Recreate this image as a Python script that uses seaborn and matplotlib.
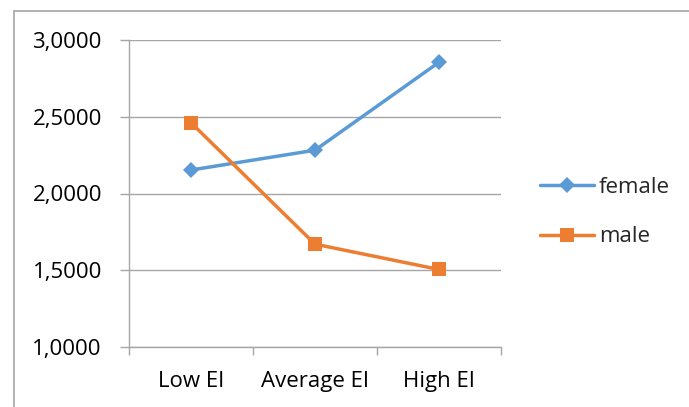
import pandas as pd
import matplotlib.pyplot as plt
import matplotlib.lines as mlines
from matplotlib.ticker import FixedLocator, NullFormatter, FuncFormatter
import seaborn as sns

# values
groups = ["Low EI", "Average EI", "High EI"]
female = [2.153, 2.282, 2.855]
male = [2.461, 1.670, 1.505]
series_names = ["female", "male"]

df = pd.DataFrame({
    "group": groups * 2,
    "score": female + male,
    "sex": ["female"] * 3 + ["male"] * 3,
})

sns.set_style("white")
plt.rcParams["font.family"] = ["Open Sans", "DejaVu Sans"]

grid_col = "#A6A6A6"
palette = {"female": "#5B9BD5", "male": "#ED7D31"}
fs = 16

fig = plt.figure(figsize=(6.89, 4.07), dpi=100)
ax = fig.add_axes([129 / 689, 1 - 347 / 407, 372 / 689, 307 / 407])

sns.lineplot(
    data=df, x="group", y="score", hue="sex", style="sex",
    palette=palette, markers={"female": "D", "male": "s"}, dashes=False,
    linewidth=2.5, markeredgewidth=0, ax=ax, legend=False,
)
# marker sizes differ per series
for line, ms in zip(ax.get_lines()[:2], [8.5, 9.5]):
    line.set_markersize(ms)

ax.set_xlim(-0.5, 2.5)
ax.set_ylim(1.0, 3.0)
ax.set_yticks([1.0, 1.5, 2.0, 2.5, 3.0])
ax.yaxis.set_major_formatter(FuncFormatter(lambda v, p: f"{v:.4f}".replace(".", ",")))
ax.yaxis.grid(True, color=grid_col, linewidth=1)
ax.xaxis.grid(False)

# tick marks at category boundaries, labels at category centres
ax.xaxis.set_major_locator(FixedLocator([-0.5, 0.5, 1.5, 2.5]))
ax.xaxis.set_major_formatter(NullFormatter())
ax.xaxis.set_minor_locator(FixedLocator([0, 1, 2]))
ax.xaxis.set_minor_formatter(FuncFormatter(lambda v, p: groups[int(round(v))]))
ax.tick_params(axis="x", which="major", length=6, width=1, color=grid_col, direction="out", bottom=True)
ax.tick_params(axis="x", which="minor", length=0, pad=17, labelsize=fs, labelcolor="black")
ax.tick_params(axis="y", length=6.5, width=1, color=grid_col, direction="out", left=True, pad=13,
               labelsize=fs, labelcolor="black")
ax.set_xlabel("")
ax.set_ylabel("")

for s in ["top", "right"]:
    ax.spines[s].set_visible(False)
for s in ["left", "bottom"]:
    ax.spines[s].set_color(grid_col)
    ax.spines[s].set_linewidth(1)

leg = ax.legend(
    handles=ax.get_lines()[:2], labels=series_names,
    loc="center left", bbox_to_anchor=(540 / 689, 1 - 212 / 407), bbox_transform=fig.transFigure,
    frameon=False, fontsize=fs, handlelength=2.45, handletextpad=0.2, labelspacing=1.3,
    borderaxespad=0, borderpad=0,
)

# chart frame (only top and left edges visible in the crop)
fig.add_artist(mlines.Line2D([13.5 / 689, 1], [1 - 10.5 / 407] * 2, color=grid_col, lw=1.2))
fig.add_artist(mlines.Line2D([13.5 / 689] * 2, [0, 1 - 10.5 / 407], color=grid_col, lw=1.2))

plt.savefig("out.png", dpi=100)
